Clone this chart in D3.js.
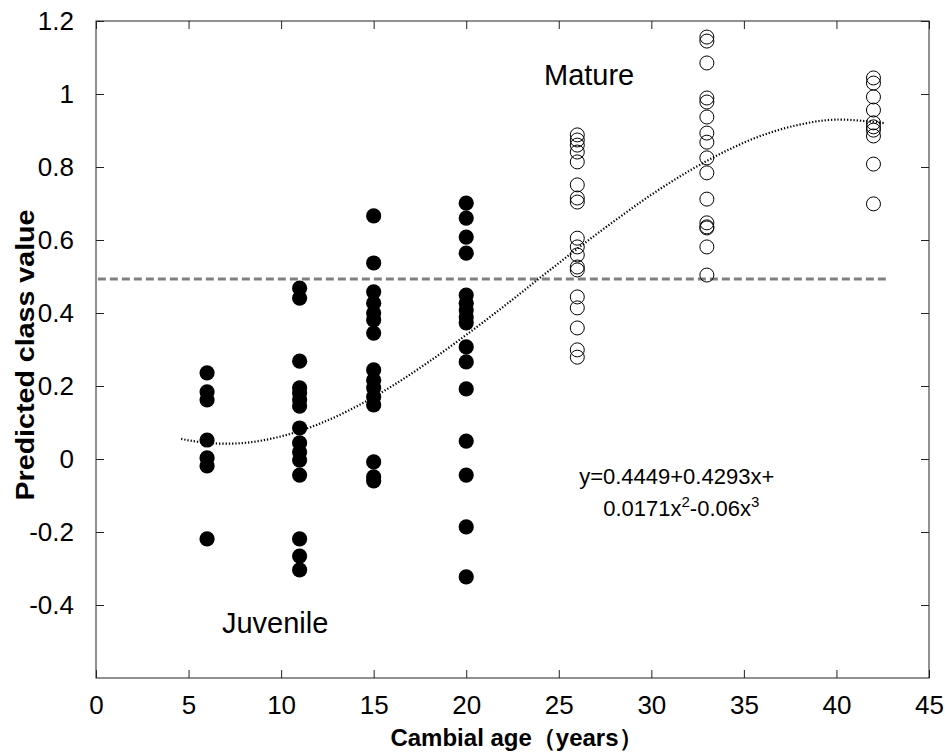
<!DOCTYPE html>
<html>
<head>
<meta charset="utf-8">
<script src="https://cdn.jsdelivr.net/npm/d3@7"></script>
<style>
  body { margin: 0; background: #fff; }
  text { font-family: Arial, "Liberation Sans", sans-serif; }
</style>
</head>
<body>
<div id="chart"></div>
<script>
// predicted class values, one list per cambial age
const col6  = [0.236, 0.184, 0.162, 0.052, 0.003, -0.019, -0.219];
const col11 = [0.468, 0.441, 0.268, 0.195, 0.181, 0.162, 0.145, 0.085, 0.044, 0.019, -0.003, -0.044, -0.219, -0.266, -0.304];
const col15 = [0.666, 0.537, 0.458, 0.427, 0.400, 0.381, 0.345, 0.244, 0.216, 0.195, 0.170, 0.148, -0.008, -0.049, -0.060];
const col20 = [0.701, 0.660, 0.608, 0.564, 0.449, 0.427, 0.408, 0.389, 0.373, 0.307, 0.266, 0.192, 0.049, -0.044, -0.186, -0.323];
const col26 = [0.888, 0.874, 0.860, 0.841, 0.814, 0.751, 0.715, 0.704, 0.605, 0.581, 0.559, 0.526, 0.518, 0.444, 0.414, 0.359, 0.299, 0.279];
const col33 = [1.156, 1.145, 1.085, 0.989, 0.978, 0.937, 0.893, 0.868, 0.825, 0.784, 0.712, 0.647, 0.636, 0.633, 0.581, 0.504];
const col42 = [1.044, 1.030, 0.992, 0.956, 0.921, 0.910, 0.901, 0.885, 0.808, 0.699];

const juvenileAges = [6, 11, 15, 20];
const matureAges = [26, 33, 42];

// fitted curve, points
const curveAge = [4.6, 6, 8, 10, 12, 14, 16, 18, 20, 22, 24, 26, 28, 30, 32, 34, 36, 38, 40, 42.6];
const curveVal = [0.055, 0.044, 0.044, 0.062, 0.095, 0.142, 0.200, 0.267, 0.340, 0.417, 0.497, 0.576, 0.652, 0.724, 0.788, 0.843, 0.887, 0.916, 0.930, 0.920];

const threshold = 0.493;
const thresholdSpan = [0.1, 42.7];

const xTicks = [0, 5, 10, 15, 20, 25, 30, 35, 40, 45];
const yTicks = [-0.4, -0.2, 0, 0.2, 0.4, 0.6, 0.8, 1, 1.2];

const width = 945, height = 753;
const margin = {top: 21, right: 16, bottom: 75, left: 96};

const juvenile = [col6, col11, col15, col20].flatMap((c, i) => c.map(v => [juvenileAges[i], v]));
const mature = [col26, col33, col42].flatMap((c, i) => c.map(v => [matureAges[i], v]));

const svg = d3.select('#chart').append('svg')
    .attr('width', width)
    .attr('height', height);

const x = d3.scaleLinear().domain([0, 45]).range([margin.left, width - margin.right]);
const y = d3.scaleLinear().domain([-0.6, 1.2]).range([height - margin.bottom, margin.top]);

// threshold line
svg.append('line')
    .attr('x1', x(thresholdSpan[0])).attr('x2', x(thresholdSpan[1]))
    .attr('y1', y(threshold)).attr('y2', y(threshold))
    .style('stroke', '#808080')
    .style('stroke-width', 3)
    .style('stroke-dasharray', '8,4');

// fitted curve
const line = d3.line()
    .x(d => x(d[0]))
    .y(d => y(d[1]))
    .curve(d3.curveCatmullRom);

svg.append('path')
    .datum(curveAge.map((a, i) => [a, curveVal[i]]))
    .attr('d', line)
    .style('fill', 'none')
    .style('stroke', '#000')
    .style('stroke-width', 2.2)
    .style('stroke-dasharray', '1.3,1.9');

// points
svg.append('g').selectAll('circle')
    .data(juvenile)
    .join('circle')
    .attr('cx', d => x(d[0]))
    .attr('cy', d => y(d[1]))
    .attr('r', 7.6)
    .style('fill', '#000');

svg.append('g').selectAll('circle')
    .data(mature)
    .join('circle')
    .attr('cx', d => x(d[0]))
    .attr('cy', d => y(d[1]))
    .attr('r', 7)
    .style('fill', 'none')
    .style('stroke', '#000')
    .style('stroke-width', 1);

// axes box
const tickLen = 8;
const axisColor = '#222';
const gAx = svg.append('g');

gAx.append('rect')
    .attr('x', x(0)).attr('y', y(1.2))
    .attr('width', x(45) - x(0)).attr('height', y(-0.6) - y(1.2))
    .style('fill', 'none')
    .style('stroke', axisColor)
    .style('stroke-width', 1);

const axBottom = d3.axisBottom(x).tickValues(xTicks).tickSize(-tickLen).tickPadding(18);
const axTop = d3.axisTop(x).tickValues(xTicks).tickSize(-tickLen).tickFormat('');
const axLeft = d3.axisLeft(y).tickValues(yTicks).tickSize(-tickLen).tickPadding(22)
    .tickFormat(d => String(Math.round(d * 10) / 10));
const axRight = d3.axisRight(y).tickValues(yTicks).tickSize(-tickLen).tickFormat('');

[
  [axBottom, `translate(0,${y(-0.6)})`],
  [axTop, `translate(0,${y(1.2)})`],
  [axLeft, `translate(${x(0)},0)`],
  [axRight, `translate(${x(45)},0)`]
].forEach(([ax, tr]) => {
  const g = gAx.append('g').attr('transform', tr).call(ax);
  g.select('.domain').remove();
  g.selectAll('line').style('stroke', axisColor);
  g.selectAll('text').style('font-size', '26px').style('fill', '#000');
});

// axis titles
svg.append('text')
    .attr('x', (x(0) + x(45)) / 2 + 4)
    .attr('y', 746)
    .attr('text-anchor', 'middle')
    .style('font-size', '24px')
    .style('font-weight', 'bold')
    .text('Cambial age（years）');

// y title, slightly stretched along its length as in the figure
svg.append('text')
    .attr('transform', `translate(34,355) rotate(-90) scale(1.1,1)`)
    .attr('text-anchor', 'middle')
    .style('font-size', '26px')
    .style('font-weight', 'bold')
    .text('Predicted class value');

// annotations
svg.append('text')
    .attr('x', x(24.2)).attr('y', y(1.025))
    .style('font-size', '29px')
    .text('Mature');

svg.append('text')
    .attr('x', x(6.8)).attr('y', y(-0.477))
    .style('font-size', '29px')
    .text('Juvenile');

const eq = svg.append('text').style('font-size', '22px');
eq.append('tspan').attr('x', x(26.1)).attr('y', y(-0.068)).text('y=0.4449+0.4293x+');
const eq2 = eq.append('tspan').attr('x', x(27.4)).attr('y', y(-0.156));
eq2.append('tspan').text('0.0171x');
eq2.append('tspan').attr('dy', -9).style('font-size', '15px').text('2');
eq2.append('tspan').attr('dy', 9).text('-0.06x');
eq2.append('tspan').attr('dy', -9).style('font-size', '15px').text('3');
</script>
</body>
</html>
